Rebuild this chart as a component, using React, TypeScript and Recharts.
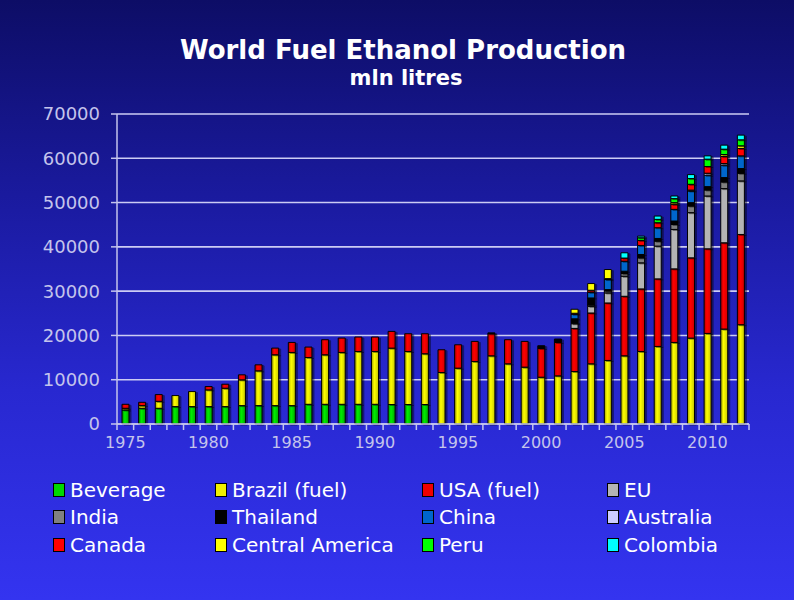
import { BarChart, Bar, XAxis, YAxis, CartesianGrid } from 'recharts';

const years = [
  '1975', '1976', '1977', '1978', '1979', '1980', '1981', '1982', '1983', '1984',
  '1985', '1986', '1987', '1988', '1989', '1990', '1991', '1992', '1993', '1994',
  '1995', '1996', '1997', '1998', '1999', '2000', '2001', '2002', '2003', '2004',
  '2005', '2006', '2007', '2008', '2009', '2010', '2011', '2012',
];

const beverage = [
  3170, 3550, 3550, 3930, 3930, 3930, 3930, 4150, 4150, 4150,
  4150, 4450, 4450, 4450, 4450, 4450, 4400, 4400, 4400, 0,
  0, 0, 0, 0, 0, 0, 0, 0, 0, 0,
  0, 0, 0, 0, 0, 0, 0, 0,
];
const brazil = [
  380, 600, 1580, 2490, 3390, 3770, 4150, 5820, 7850, 11480,
  12010, 10570, 11180, 11710, 11930, 11930, 12740, 11980, 11460, 11630,
  12610, 14120, 15400, 13590, 12840, 10570, 10870, 11850, 13590, 14350,
  15400, 16380, 17520, 18420, 19400, 20460, 21440, 22420,
];
const usa = [
  900, 750, 1510, 0, 0, 760, 900, 1130, 1360, 1510,
  2260, 2350, 3400, 3240, 3250, 3250, 3770, 4000, 4520, 5130,
  5280, 4530, 4980, 5440, 5810, 6490, 7550, 9740, 11480, 12980,
  13440, 14120, 15250, 16610, 18120, 19100, 19480, 20380,
];
const eu = [
  0, 0, 0, 0, 0, 0, 0, 0, 0, 0,
  0, 0, 0, 0, 0, 0, 0, 0, 0, 0,
  0, 0, 0, 0, 0, 0, 0, 1060, 1510, 2270,
  4530, 5890, 7400, 8910, 10200, 11930, 12230, 12090,
];
const india = [
  0, 0, 0, 0, 0, 0, 0, 0, 0, 0,
  0, 0, 0, 0, 0, 0, 0, 0, 0, 0,
  0, 0, 0, 0, 0, 0, 0, 200, 300, 450,
  600, 1130, 1130, 1130, 1510, 1360, 1510, 1740,
];
const thailand = [
  0, 0, 0, 0, 0, 0, 0, 0, 0, 0,
  0, 0, 0, 0, 0, 0, 0, 0, 0, 0,
  0, 0, 200, 0, 0, 610, 760, 900, 1580, 300,
  530, 760, 600, 760, 750, 750, 980, 1050,
];
const china = [
  0, 0, 0, 0, 0, 0, 0, 0, 0, 0,
  0, 0, 0, 0, 0, 0, 0, 0, 0, 0,
  0, 0, 0, 0, 0, 0, 0, 1060, 1290, 2270,
  2270, 2040, 2420, 2640, 2640, 2570, 2800, 2870,
];
const australia = [
  0, 0, 0, 0, 0, 0, 0, 0, 0, 0,
  0, 0, 0, 0, 0, 0, 0, 0, 0, 0,
  0, 0, 0, 0, 0, 0, 0, 0, 0, 0,
  0, 0, 0, 0, 200, 460, 370, 0,
];
const canada = [
  0, 0, 0, 0, 0, 0, 0, 0, 0, 0,
  0, 0, 0, 0, 0, 0, 0, 0, 0, 0,
  0, 0, 0, 0, 0, 0, 0, 200, 450, 200,
  700, 1130, 1130, 1130, 1310, 1510, 1590, 1660,
];
const centralAmerica = [
  0, 0, 0, 0, 0, 0, 0, 0, 0, 0,
  0, 0, 0, 0, 0, 0, 0, 0, 0, 0,
  0, 0, 0, 0, 0, 0, 0, 900, 1510, 2060,
  0, 0, 0, 380, 0, 0, 450, 610,
];
const peru = [
  0, 0, 0, 0, 0, 0, 0, 0, 0, 0,
  0, 0, 0, 0, 0, 0, 0, 0, 0, 0,
  0, 0, 0, 0, 0, 0, 0, 0, 0, 0,
  0, 600, 760, 910, 1290, 1660, 1210, 1350,
];
const colombia = [
  0, 0, 0, 0, 0, 0, 0, 0, 0, 0,
  0, 0, 0, 0, 0, 0, 0, 0, 0, 0,
  0, 0, 0, 0, 0, 0, 0, 0, 0, 0,
  1190, 380, 750, 600, 900, 750, 910, 1060,
];

const yTicks = [0, 10000, 20000, 30000, 40000, 50000, 60000, 70000];

const series = [
  { key: 'beverage', name: 'Beverage', values: beverage, fill: 'url(#gBev)', swatch: '#00d800' },
  { key: 'brazil', name: 'Brazil (fuel)', values: brazil, fill: 'url(#gBra)', swatch: '#f0f000' },
  { key: 'usa', name: 'USA (fuel)', values: usa, fill: 'url(#gUsa)', swatch: '#f00000' },
  { key: 'eu', name: 'EU', values: eu, fill: '#b4b4b4', swatch: '#b4b4b4' },
  { key: 'india', name: 'India', values: india, fill: '#808080', swatch: '#808080' },
  { key: 'thailand', name: 'Thailand', values: thailand, fill: '#000000', swatch: '#000000' },
  { key: 'china', name: 'China', values: china, fill: '#0066cc', swatch: '#0066cc' },
  { key: 'australia', name: 'Australia', values: australia, fill: '#ccccff', swatch: '#ccccff' },
  { key: 'canada', name: 'Canada', values: canada, fill: '#ff0000', swatch: '#ff0000' },
  { key: 'centralAmerica', name: 'Central America', values: centralAmerica, fill: '#ffff00', swatch: '#ffff00' },
  { key: 'peru', name: 'Peru', values: peru, fill: '#00ff00', swatch: '#00ff00' },
  { key: 'colombia', name: 'Colombia', values: colombia, fill: '#00ffff', swatch: '#00ffff' },
];

const data = years.map((year, i) => {
  const row: Record<string, string | number> = { year };
  series.forEach((s) => { row[s.key] = s.values[i]; });
  return row;
});

const FONT = '"DejaVu Sans", Verdana, sans-serif';
const AXIS_COLOR = '#c4c4ec';
const PLOT_LEFT = 117;
const PLOT_RIGHT = 749;
const BAND = (PLOT_RIGHT - PLOT_LEFT) / years.length;

function YearTick(props: any) {
  const { x, y, payload, index } = props;
  const label = Number(payload.value) % 5 === 0 ? payload.value : '';
  const last = index === years.length - 1;
  return (
    <g>
      <line x1={x - BAND / 2} x2={x - BAND / 2} y1={y} y2={y + 6} stroke={AXIS_COLOR} strokeWidth={1.5} />
      {last && <line x1={x + BAND / 2} x2={x + BAND / 2} y1={y} y2={y + 6} stroke={AXIS_COLOR} strokeWidth={1.5} />}
      {label && (
        <text x={x} y={y + 24} textAnchor="middle" fill={AXIS_COLOR} fontSize={16} fontFamily={FONT}>
          {label}
        </text>
      )}
    </g>
  );
}

const legendCols = [53, 215, 422, 607];
const legendRows = [490, 517, 545];

export default function App() {
  return (
    <div
      style={{
        position: 'absolute',
        left: 0,
        top: 0,
        width: 794,
        height: 600,
        background: 'linear-gradient(to bottom, #0d0d66 0%, #1b1ba2 35%, #2828d0 65%, #3434f0 100%)',
        fontFamily: FONT,
        overflow: 'hidden',
      }}
    >
      <style>{'.recharts-bar-rectangles { filter: drop-shadow(2px 1px 0 rgba(0,0,0,0.45)); }'}</style>
      <div style={{ position: 'absolute', left: 0, width: 806, top: 34, textAlign: 'center', color: '#fff', fontWeight: 'bold', fontSize: 26, lineHeight: '32px' }}>
        World Fuel Ethanol Production
      </div>
      <div style={{ position: 'absolute', left: 0, width: 812, top: 65, textAlign: 'center', color: '#fff', fontWeight: 'bold', fontSize: 21, lineHeight: '26px' }}>
        mln litres
      </div>
      <div style={{ position: 'absolute', left: 0, top: 0 }}>
        <BarChart
          width={794}
          height={600}
          data={data}
          margin={{ top: 114, right: 794 - PLOT_RIGHT, left: 0, bottom: 146 }}
          barSize={7}
        >
          <defs>
            <linearGradient id="gBev" x1="0" y1="0" x2="1" y2="0">
              <stop offset="0%" stopColor="#008800" />
              <stop offset="40%" stopColor="#00ee00" />
              <stop offset="100%" stopColor="#00aa00" />
            </linearGradient>
            <linearGradient id="gBra" x1="0" y1="0" x2="1" y2="0">
              <stop offset="0%" stopColor="#9a9a00" />
              <stop offset="40%" stopColor="#ffff00" />
              <stop offset="100%" stopColor="#c8c800" />
            </linearGradient>
            <linearGradient id="gUsa" x1="0" y1="0" x2="1" y2="0">
              <stop offset="0%" stopColor="#b00000" />
              <stop offset="40%" stopColor="#ff0000" />
              <stop offset="100%" stopColor="#d00000" />
            </linearGradient>
          </defs>
          <CartesianGrid vertical={false} stroke="#ccccf4" strokeWidth={1.6} />
          <XAxis
            dataKey="year"
            interval={0}
            height={30}
            tickSize={0}
            tickMargin={0}
            tick={<YearTick />}
            axisLine={{ stroke: AXIS_COLOR, strokeWidth: 1.5 }}
            tickLine={false}
          />
          <YAxis
            width={PLOT_LEFT}
            domain={[0, 70000]}
            ticks={yTicks}
            interval={0}
            tickSize={6}
            tickMargin={11}
            axisLine={{ stroke: AXIS_COLOR, strokeWidth: 1.5 }}
            tickLine={{ stroke: AXIS_COLOR, strokeWidth: 1.5 }}
            tick={{ fill: AXIS_COLOR, fontSize: 18, fontFamily: FONT }}
          />
          <YAxis
            yAxisId="border"
            orientation="right"
            width={0}
            tick={false}
            tickLine={false}
            axisLine={{ stroke: AXIS_COLOR, strokeWidth: 1.5 }}
          />
          {series.map((s) => (
            <Bar
              key={s.key}
              dataKey={s.key}
              name={s.name}
              stackId="a"
              fill={s.fill}
              stroke="#000000"
              strokeWidth={1}
              isAnimationActive={false}
            />
          ))}
        </BarChart>
      </div>
      {series.map((s, i) => {
        const col = i % 4;
        const row = Math.floor(i / 4);
        return (
          <div
            key={s.key}
            style={{
              position: 'absolute',
              left: legendCols[col],
              top: legendRows[row] - 13,
              height: 26,
              display: 'flex',
              alignItems: 'center',
              color: '#ffffff',
              fontSize: 20,
              whiteSpace: 'nowrap',
            }}
          >
            <span style={{ display: 'inline-block', width: 10, height: 12, background: s.swatch, border: '1px solid #000', marginRight: 5 }} />
            {s.name}
          </div>
        );
      })}
    </div>
  );
}
